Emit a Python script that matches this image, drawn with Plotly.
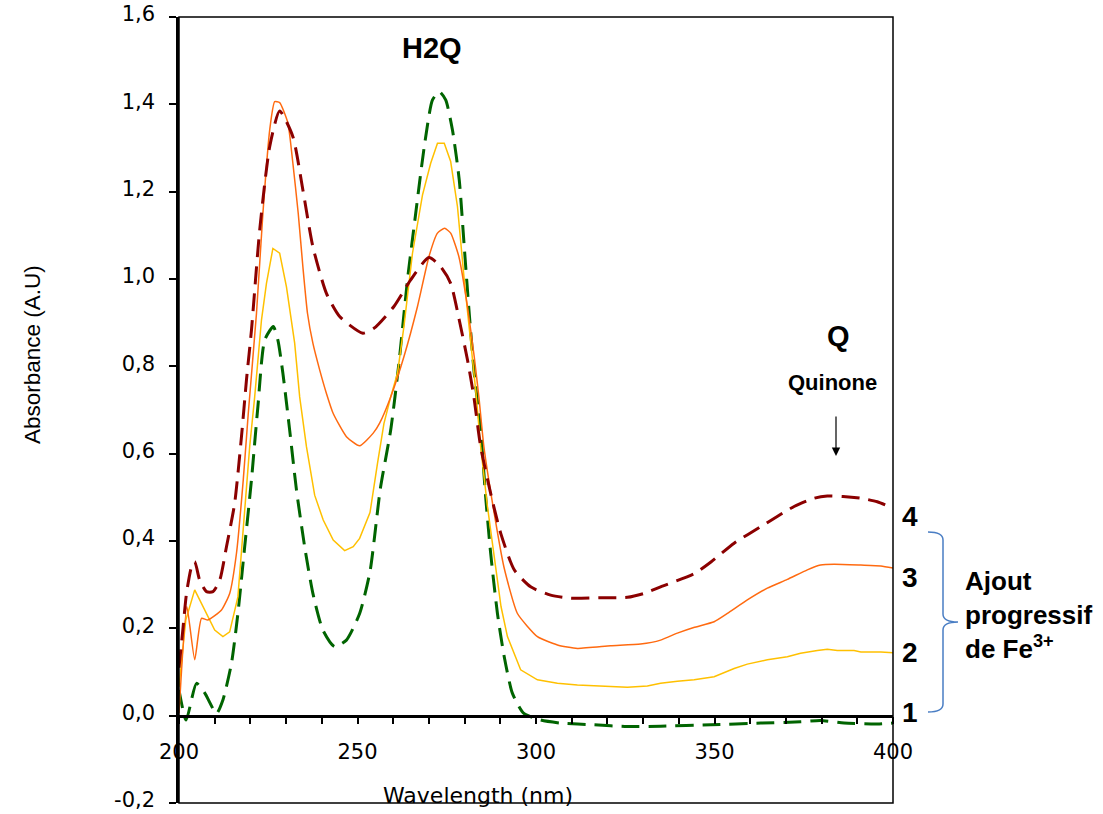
import plotly.graph_objects as go

# ---------------- data ----------------
wl1 = [200, 202, 204.9, 207.2, 210.5, 212.3, 214.7, 216.5, 218.4, 220.3, 222.1, 224, 226.4, 227.7,
       229.1, 231, 232.9, 235.2, 237.5, 240.3, 243.6, 246.9, 250.6, 253.5, 256.4, 259.3, 261.6, 264,
       266.3, 268.7, 271, 272.9, 274.7, 276.6, 278.5, 279.9, 281.3, 282.7, 284.5, 285.9, 287.3, 289.2,
       291.1, 293.4, 296.6, 301.3, 306.9, 316.3, 325.6, 334.9, 349, 363, 374.1, 379.7, 386.3, 395.6, 400]
abs1 = [0.059, -0.01, 0.074, 0.052, 0.005, 0.036, 0.12, 0.234, 0.387, 0.54, 0.708, 0.86, 0.891, 0.86,
        0.784, 0.654, 0.517, 0.387, 0.28, 0.196, 0.158, 0.173, 0.234, 0.33, 0.52, 0.654, 0.807, 0.998,
        1.15, 1.303, 1.41, 1.429, 1.41, 1.341, 1.227, 1.074, 0.921, 0.784, 0.654, 0.501, 0.372, 0.234,
        0.135, 0.051, 0.005, -0.01, -0.017, -0.021, -0.025, -0.024, -0.021, -0.017, -0.014, -0.011,
        -0.017, -0.019, -0.017]

wl2 = [200, 201.9, 204.4, 207.2, 210, 212.3, 214.2, 216.5, 218.4, 219.8, 221.2, 223.1, 224.5, 226.3,
       228.2, 230.1, 232.4, 233.8, 235.7, 238, 240.4, 243.2, 246.4, 248.8, 250.6, 253.5, 255.6, 257.4,
       259.3, 261.2, 263, 265.4, 268.2, 270.5, 272.4, 274.3, 276.1, 278, 279.9, 281.7, 283.1, 284.5,
       286.4, 288.3, 290.2, 292, 295.7, 300.4, 306, 311.6, 316.3, 325.6, 331.2, 334.9, 339.6, 344.3,
       349.9, 355.5, 359.2, 364.8, 370.4, 374.1, 378.8, 381.6, 384.4, 389.1, 391, 396.6, 400]
abs2 = [0.066, 0.219, 0.288, 0.242, 0.196, 0.181, 0.192, 0.272, 0.463, 0.616, 0.73, 0.906, 0.99, 1.07,
        1.059, 0.982, 0.853, 0.73, 0.616, 0.505, 0.448, 0.402, 0.378, 0.387, 0.406, 0.465, 0.578, 0.669,
        0.73, 0.784, 0.891, 1.059, 1.192, 1.265, 1.311, 1.311, 1.269, 1.166, 0.998, 0.86, 0.746, 0.616,
        0.479, 0.364, 0.25, 0.181, 0.105, 0.082, 0.074, 0.07, 0.068, 0.065, 0.068, 0.074, 0.079, 0.082,
        0.089, 0.108, 0.118, 0.128, 0.135, 0.143, 0.149, 0.152, 0.149, 0.149, 0.146, 0.146, 0.144]

wl3 = [200, 202.2, 204.4, 206.3, 208.1, 211.9, 214.2, 216.1, 218, 219.4, 221.7, 223.5, 225.4, 226.8,
       228.2, 230.5, 231.9, 233.4, 234.7, 236, 237.5, 239.4, 241.3, 243.2, 246.9, 250.6, 254.4, 256.2,
       259.3, 263, 266.8, 270, 272.4, 274.4, 276.1, 278.4, 280.8, 282.7, 284, 285.4, 288.3, 291, 294.8,
       300.4, 306, 311.6, 320.9, 329.3, 334.9, 339.6, 344.2, 349.9, 353.6, 359.2, 364.8, 370.4, 376,
       379.7, 383.5, 391, 396.6, 400]
abs3 = [0.006, 0.25, 0.128, 0.223, 0.219, 0.242, 0.28, 0.372, 0.54, 0.692, 0.921, 1.15, 1.341, 1.406,
        1.404, 1.357, 1.265, 1.15, 1.028, 0.921, 0.853, 0.792, 0.738, 0.692, 0.639, 0.618, 0.647, 0.67,
        0.73, 0.822, 0.937, 1.051, 1.105, 1.116, 1.105, 1.051, 0.937, 0.822, 0.73, 0.616, 0.463, 0.341,
        0.234, 0.181, 0.162, 0.154, 0.16, 0.164, 0.173, 0.189, 0.202, 0.215, 0.234, 0.265, 0.292, 0.312,
        0.334, 0.345, 0.347, 0.345, 0.343, 0.338]

wl4 = [200, 201, 202.1, 203.5, 204.4, 205.8, 207.7, 209.5, 211.4, 213.3, 215.6, 217.5, 218.9, 220.3,
       222.6, 225.4, 228.2, 231.9, 234.7, 237.5, 241.3, 245, 251.5, 254.6, 260.2, 264.9, 270, 273.3,
       276.1, 278.5, 280.8, 282.6, 284.5, 287.3, 290.1, 293.9, 298.5, 304.1, 309.7, 318, 325.6, 330.3,
       334.9, 344.3, 349, 355.5, 363, 372.3, 377.9, 381.6, 386, 390.9, 395.6, 400]
abs4 = [0.11, 0.19, 0.28, 0.341, 0.353, 0.31, 0.284, 0.284, 0.31, 0.387, 0.487, 0.639, 0.769, 0.883,
        1.112, 1.303, 1.385, 1.326, 1.204, 1.074, 0.967, 0.914, 0.876, 0.887, 0.937, 0.998, 1.049, 1.028,
        0.99, 0.906, 0.815, 0.73, 0.616, 0.509, 0.418, 0.334, 0.295, 0.276, 0.269, 0.27, 0.271, 0.28,
        0.295, 0.325, 0.352, 0.395, 0.433, 0.479, 0.498, 0.503, 0.502, 0.498, 0.49, 0.475]

y_tick_vals = [-0.2, 0.0, 0.2, 0.4, 0.6, 0.8, 1.0, 1.2, 1.4, 1.6]
y_tick_text = ["-0,2", "0,0", "0,2", "0,4", "0,6", "0,8", "1,0", "1,2", "1,4", "1,6"]
x_tick_vals = [200, 250, 300, 350, 400]
x_tick_text = ["200", "250", "300", "350", "400"]
curve_labels = ["1", "2", "3", "4"]

# ---------------- layout geometry helpers (screen pixels) ----------------
W, H = 1103, 814
L, R, T, B = 179, 893, 17, 803


def px(x):
    return (x - L) / (R - L)


def py(y):
    return (B - y) / (B - T)


fig = go.Figure()
fig.add_trace(go.Scatter(x=wl1, y=abs1, mode="lines", name="1",
                         line=dict(color="#006400", width=3, dash="18px,9px", shape="spline", smoothing=0.6)))
fig.add_trace(go.Scatter(x=wl2, y=abs2, mode="lines", name="2",
                         line=dict(color="#FFC000", width=1.5)))
fig.add_trace(go.Scatter(x=wl3, y=abs3, mode="lines", name="3",
                         line=dict(color="#FF6A10", width=1.5, shape="spline", smoothing=0.5)))
fig.add_trace(go.Scatter(x=wl4, y=abs4, mode="lines", name="4",
                         line=dict(color="#8B0000", width=3, dash="18px,9px", shape="spline", smoothing=0.6)))

tick_font = dict(family="DejaVu Sans", size=21, color="black")

fig.update_layout(
    width=W, height=H,
    margin=dict(l=L, r=W - R, t=T, b=H - B, autoexpand=False),
    paper_bgcolor="white", plot_bgcolor="white",
    showlegend=False,
    xaxis=dict(range=[200, 400], anchor="free", position=0.2 / 1.8, automargin=False,
               showline=True, linecolor="black", linewidth=2.5,
               ticks="outside", ticklen=7, tickwidth=1.5, tickcolor="black",
               tickmode="array", tickvals=x_tick_vals, ticktext=x_tick_text,
               minor=dict(dtick=10, tick0=200, ticks="outside", ticklen=7, tickwidth=1.5, tickcolor="black"),
               showgrid=False, zeroline=False, tickfont=tick_font, ticklabelstandoff=9,
               ticklabeloverflow="allow"),
    yaxis=dict(range=[-0.2, 1.6], automargin=False, showline=True, linecolor="black", linewidth=2.5,
               ticks="outside", ticklen=7, tickwidth=1.5, tickcolor="black",
               tickmode="array", tickvals=y_tick_vals, ticktext=y_tick_text,
               showgrid=False, zeroline=False, tickfont=tick_font, ticklabelstandoff=10,
               ticklabeloverflow="allow", ticklabelshift=-3),
)

# frame around plot area
fig.add_shape(type="rect", xref="paper", yref="paper", x0=0, x1=1, y0=0, y1=1,
              line=dict(color="black", width=1.5), layer="above")

bold = "Liberation Sans"
ann = []
ann.append(dict(text="<b>H2Q</b>", x=px(432), y=py(48), font=dict(family=bold, size=29, color="black")))
ann.append(dict(text="<b>Q</b>", x=px(838), y=py(336), font=dict(family=bold, size=29, color="black")))
ann.append(dict(text="<b>Quinone</b>", x=px(832), y=py(382), font=dict(family=bold, size=22, color="black")))
for lab, yc in zip(curve_labels, [712, 652, 577, 516]):
    ann.append(dict(text="<b>" + lab + "</b>", x=px(910), y=py(yc), font=dict(family=bold, size=28, color="black")))
ann.append(dict(text="<b>Ajout<br>progressif<br>de Fe<sup>3+</sup></b>", x=px(963), y=py(615),
                xanchor="left", align="left", font=dict(family=bold, size=26, color="black")))
ann.append(dict(text="Wavelength (nm)", x=px(478), y=py(795), font=dict(family="DejaVu Sans", size=22, color="black")))
ann.append(dict(text="Absorbance (A.U)", x=px(32), y=py(355), textangle=-90,
                font=dict(family="Liberation Sans", size=22.5, color="black")))
for a in ann:
    a.setdefault("xref", "paper")
    a.setdefault("yref", "paper")
    a.setdefault("showarrow", False)
    a.setdefault("xanchor", "center")
    a.setdefault("yanchor", "middle")
    fig.add_annotation(**a)

# arrow pointing to the quinone band
fig.add_annotation(xref="paper", yref="paper", x=px(836), y=py(456), ax=0, ay=-41,
                   text="", showarrow=True, arrowhead=2, arrowsize=1.4, arrowwidth=1.2, arrowcolor="black")


# curly bracket
def P(x, y):
    return f"{px(x):.5f},{py(y):.5f}"


path = ("M " + P(928, 532) + " Q " + P(943, 532) + " " + P(943, 540) +
        " L " + P(943, 614) + " Q " + P(943, 622) + " " + P(958, 622) +
        " Q " + P(943, 622) + " " + P(943, 630) +
        " L " + P(943, 704) + " Q " + P(943, 712) + " " + P(928, 712))
fig.add_shape(type="path", xref="paper", yref="paper", path=path,
              line=dict(color="#4A7EC4", width=1.5))

fig.write_html("out.html", config={"displayModeBar": False},
               post_script="document.body.style.margin='0px';document.body.style.overflow='hidden';")
